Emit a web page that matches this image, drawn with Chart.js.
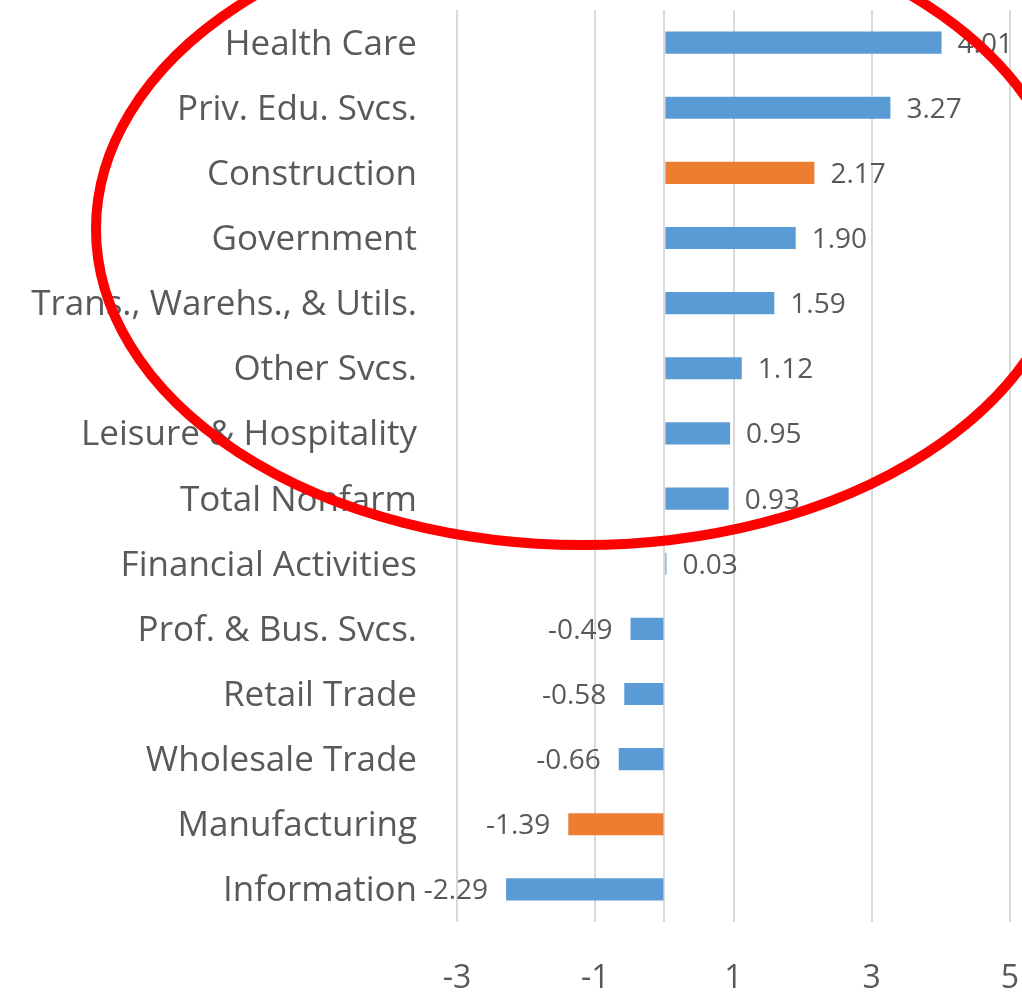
<!DOCTYPE html>
<html>
<head>
<meta charset="utf-8">
<script src="https://cdn.jsdelivr.net/npm/chart.js@4/dist/chart.umd.min.js"></script>
<style>
html,body{margin:0;padding:0;background:#fff;}
#wrap{width:1022px;height:993px;position:relative;}
</style>
</head>
<body>
<div id="wrap"><canvas id="c" width="1022" height="993"></canvas></div>
<script>
const categories = ["Health Care","Priv. Edu. Svcs.","Construction","Government","Trans., Warehs., & Utils.","Other Svcs.","Leisure & Hospitality","Total Nonfarm","Financial Activities","Prof. & Bus. Svcs.","Retail Trade","Wholesale Trade","Manufacturing","Information"];
const values = [4.01,3.27,2.17,1.90,1.59,1.12,0.95,0.93,0.03,-0.49,-0.58,-0.66,-1.39,-2.29];
const highlighted = ["Construction","Manufacturing"];
const xTicks = [-3,-1,0,1,3,5];

const BLUE = "#5B9BD5", ORANGE = "#ED7D31", TEXT = "#595959", FONT = "'Open Sans', sans-serif";

const labelPlugin = {
  id: 'valueLabels',
  afterDatasetsDraw(chart) {
    const ctx = chart.ctx;
    const meta = chart.getDatasetMeta(0);
    ctx.save();
    ctx.font = "28px " + FONT;
    ctx.fillStyle = TEXT;
    ctx.textBaseline = "middle";
    meta.data.forEach((bar, i) => {
      const v = values[i];
      const txt = v.toFixed(2);
      if (v >= 0) { ctx.textAlign = "left"; ctx.fillText(txt, bar.x + 16, bar.y + 2); }
      else { ctx.textAlign = "right"; ctx.fillText(txt, bar.x - 18, bar.y + 2); }
    });
    ctx.restore();
  },
  afterDraw(chart) {
    const ctx = chart.ctx;
    ctx.save();
    ctx.strokeStyle = "#FF0000";
    ctx.lineWidth = 10;
    ctx.beginPath();
    ctx.ellipse(583, 229, 487, 316, 0, 0, Math.PI * 2);
    ctx.stroke();
    ctx.restore();
  }
};

new Chart(document.getElementById('c'), {
  type: 'bar',
  data: {
    labels: categories,
    datasets: [{
      data: values,
      backgroundColor: categories.map(c => highlighted.includes(c) ? ORANGE : BLUE),
      borderWidth: 0,
      barPercentage: 0.68,
      categoryPercentage: 0.5
    }]
  },
  options: {
    indexAxis: 'y',
    responsive: false,
    animation: false,
    layout: { padding: { top: 10, right: 12, left: 0, bottom: 0 } },
    plugins: { legend: { display: false }, tooltip: { enabled: false } },
    scales: {
      x: {
        min: -3, max: 5,
        afterBuildTicks(scale) { scale.ticks = xTicks.map(v => ({ value: v })); },
        afterFit(scale) { scale.height = 71; scale.paddingLeft = 0; scale.paddingRight = 0; },
        grid: { color: "#D9D9D9", lineWidth: 2, drawTicks: false },
        border: { display: false },
        ticks: {
          color: TEXT, font: { size: 32, family: FONT }, padding: 38,
          callback: v => v === 0 ? '' : String(v)
        }
      },
      y: {
        afterFit(scale) { scale.width = 457; scale.paddingTop = 0; scale.paddingBottom = 0; },
        grid: { display: false, drawTicks: false },
        border: { display: false },
        ticks: { color: TEXT, font: { size: 35, family: FONT }, padding: 40, autoSkip: false, labelOffset: 2 }
      }
    }
  },
  plugins: [labelPlugin]
});
</script>
</body>
</html>
